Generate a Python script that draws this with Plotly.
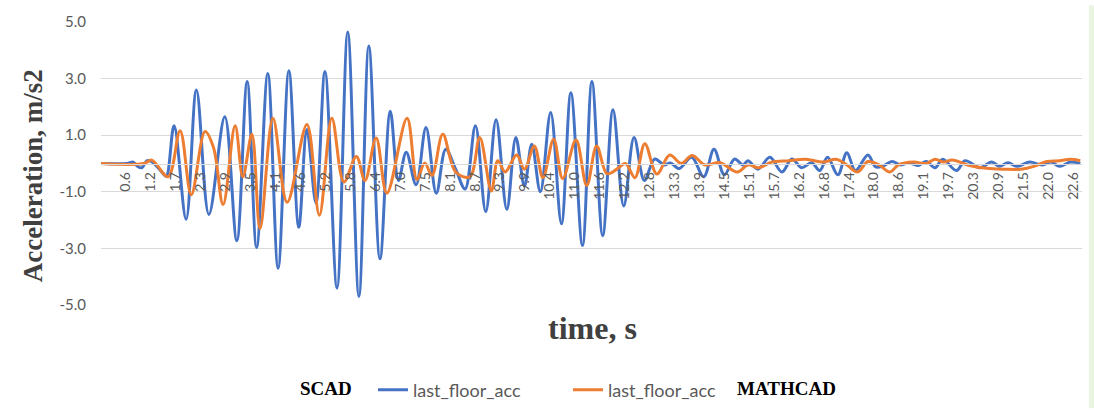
import plotly.graph_objects as go

# SCAD response: last floor acceleration (s, m/s2) at turning points of the record
scad_t = [0, 0.6, 0.75, 0.85, 0.95, 1.07, 1.2, 1.44, 1.52, 1.70, 1.98, 2.22, 2.51, 2.88,
          3.16, 3.40, 3.62, 3.88, 4.12, 4.37, 4.60, 4.79, 5.00, 5.21, 5.49, 5.74, 6.00,
          6.23, 6.49, 6.73, 6.92, 7.10, 7.33, 7.56, 7.80, 8.02, 8.25, 8.47, 8.71, 8.95,
          9.19, 9.44, 9.65, 9.85, 10.02, 10.22, 10.46, 10.71, 10.93, 11.20, 11.42, 11.67,
          11.91, 12.16, 12.40, 12.64, 12.88, 13.10, 13.25, 13.45, 13.74, 14.02, 14.26,
          14.50, 14.74, 14.93, 15.05, 15.28, 15.56, 15.84, 16.07, 16.30, 16.53, 16.72,
          16.90, 17.14, 17.35, 17.55, 17.84, 18.02, 18.20, 18.40, 18.60, 18.80, 19.00,
          19.20, 19.40, 19.58, 19.90, 20.10, 20.44, 20.72, 20.90, 21.10, 21.30, 21.60,
          21.90, 22.10, 22.30, 22.55, 22.78]
scad_acc = [0, 0, 0.05, -0.1, -0.15, 0.1, 0.05, -0.35, -0.45, 1.33, -1.97, 2.6, -1.8, 1.65,
            -2.73, 2.9, -2.97, 3.18, -3.7, 3.28, -2.25, 1.2, -1.4, 3.25, -4.4, 4.65, -4.7,
            4.15, -3.37, 1.85, -0.6, 0.4, -0.75, 1.27, -1.05, 0.5, -0.2, -0.9, 1.33, -1.7,
            1.55, -1.62, 0.92, -0.8, 0.68, -1.0, 1.8, -2.13, 2.5, -2.9, 2.9, -2.55,
            1.9, -1.5, 0.92, -0.6, 0.16, -0.05, 0.02, -0.18, 0.22, -0.47, 0.5,
            -0.4, 0.16, -0.05, 0.1, -0.2, 0.22, -0.3, 0.16, -0.15, 0.03, -0.25,
            0.22, -0.4, 0.38, -0.25, 0.3, -0.12, -0.08, 0.07, -0.05, 0.02, -0.07,
            0.07, -0.15, 0.15, -0.25, 0.1, -0.15, 0.05, -0.1, 0.03, -0.1, 0.05,
            -0.05, 0.05, -0.1, 0.05, 0.0]

# MATHCAD response: last floor acceleration (s, m/s2)
mathcad_t = [0, 1.0, 1.18, 1.56, 1.84, 2.10, 2.42, 2.62, 2.84, 3.12, 3.30, 3.51, 3.70,
             4.00, 4.33, 4.79, 5.08, 5.37, 5.65, 5.94, 6.14, 6.40, 6.65, 7.12, 7.35,
             7.53, 7.70, 7.95, 8.25, 8.58, 8.81, 9.08, 9.23, 9.40, 9.67, 9.85, 10.08,
             10.28, 10.53, 10.74, 11.05, 11.30, 11.53, 11.77, 12.00, 12.20, 12.42, 12.65,
             12.93, 13.23, 13.50, 13.75, 14.05, 14.40, 14.80, 15.05, 15.30, 15.60, 16.00,
             16.40, 16.80, 17.10, 17.35, 17.60, 17.84, 18.10, 18.35, 18.55, 18.90, 19.20,
             19.40, 19.60, 19.80, 20.20, 20.60, 21.00, 21.40, 21.70, 22.00, 22.30, 22.55,
             22.78]
mathcad_acc = [0, 0, 0.12, -0.47, 1.16, -1.1, 1.13, 0.55, -1.45, 1.33, -0.47, 1.03, -2.3,
               1.6, -1.37, 1.38, -1.83, 1.6, -0.65, 0.25, -0.6, 0.9, -1.05, 1.6, -0.57,
               0.02, -0.42, 1.03, -0.3, -0.47, 0.92, -0.97, 0.1, -0.3, 0.3, -0.2, 0.62,
               -0.5, 0.86, -0.53, 0.83, -0.78, 0.62, -0.36, -0.2, 0.0, -0.5, 0.7,
               -0.37, 0.3, 0.0, 0.28, -0.05, 0.03, -0.3, -0.05, -0.15, 0.05, 0.1,
               0.15, 0.05, 0.15, -0.05, -0.3, 0.07, -0.05, -0.3, -0.05, 0.05, 0.0,
               0.15, 0.05, 0.12, -0.07, -0.17, -0.2, -0.2, -0.1, 0.07, 0.1, 0.15,
               0.1]

# category labels of the time axis (one every 0.58 s)
time_labels = ["0.6", "1.2", "1.7", "2.3", "2.9", "3.5", "4.1", "4.6", "5.2", "5.8",
               "6.4", "7.0", "7.5", "8.1", "8.7", "9.3", "9.9", "10.4", "11.0", "11.6",
               "12.2", "12.8", "13.3", "13.9", "14.5", "15.1", "15.7", "16.2", "16.8",
               "17.4", "18.0", "18.6", "19.1", "19.7", "20.3", "20.9", "21.5", "22.0",
               "22.6"]
label_step = 0.58
acc_ticks = [-5, -3, -1, 1, 3, 5]
acc_labels = ["-5.0", "-3.0", "-1.0", "1.0", "3.0", "5.0"]

W, H = 1094, 410
ML, MR, MT, MB = 101, 12, 17, 105
PW, PH = W - ML - MR, H - MT - MB


def px(x):
    return (x - ML) / PW


def py(y):
    return (H - MB - y) / PH


BLUE = "#4472C4"
ORANGE = "#ED7D31"
GRAY = "#595959"

fig = go.Figure()
fig.add_trace(go.Scatter(x=scad_t, y=scad_acc, mode="lines", name="last_floor_acc",
                         line=dict(color=BLUE, width=3, shape="spline", smoothing=1.0)))
fig.add_trace(go.Scatter(x=mathcad_t, y=mathcad_acc, mode="lines", name="last_floor_acc",
                         line=dict(color=ORANGE, width=3, shape="spline", smoothing=1.0)))

fig.update_layout(
    width=W, height=H,
    margin=dict(l=ML, r=MR, t=MT, b=MB),
    paper_bgcolor="white", plot_bgcolor="white",
    font=dict(family="Lato", color=GRAY),
    showlegend=True,
    legend=dict(orientation="h", xref="container", yref="container",
                x=373 / W, y=1 - 390 / H, xanchor="left", yanchor="middle",
                font=dict(family="Lato", size=18, color=GRAY),
                entrywidth=150, entrywidthmode="pixels",
                bgcolor="rgba(0,0,0,0)", itemclick=False),
    xaxis=dict(range=[0, 22.82], anchor="free", position=0.5,
               tickvals=[label_step * (i + 1) for i in range(len(time_labels))],
               ticktext=time_labels, tickangle=-90, ticks="",
               tickfont=dict(family="Lato", size=14, color=GRAY),
               ticklabelstandoff=2,
               showgrid=False, zeroline=False,
               showline=True, linecolor="#D9D9D9", linewidth=1),
    yaxis=dict(range=[-5, 5], tickvals=acc_ticks, ticktext=acc_labels,
               ticks="", tickfont=dict(family="Lato", size=15, color=GRAY),
               ticklabelstandoff=14,
               showgrid=True, gridcolor="#D9D9D9", gridwidth=1,
               zeroline=False, showline=False),
    shapes=[dict(type="rect", xref="paper", yref="paper",
                 x0=px(1089), x1=px(1094), y0=py(410), y1=py(0),
                 fillcolor="#E9F5E1", line=dict(width=0), layer="below")],
    annotations=[
        dict(text="<b>Acceleration, m/s2</b>", xref="paper", yref="paper",
             x=px(33), y=py(174), textangle=-90, showarrow=False,
             xanchor="center", yanchor="middle",
             font=dict(family="Liberation Serif", size=27, color="#404040")),
        dict(text="<b>time, s</b>", xref="paper", yref="paper",
             x=px(592), y=py(328), showarrow=False,
             xanchor="center", yanchor="middle",
             font=dict(family="Liberation Serif", size=32, color="#404040")),
        dict(text="<b>SCAD</b>", xref="paper", yref="paper",
             x=px(326), y=py(390), showarrow=False,
             xanchor="center", yanchor="middle",
             font=dict(family="Liberation Serif", size=19, color="black")),
        dict(text="<b>MATHCAD</b>", xref="paper", yref="paper",
             x=px(786), y=py(390), showarrow=False,
             xanchor="center", yanchor="middle",
             font=dict(family="Liberation Serif", size=19, color="black")),
    ],
)

fig.write_html("out.html")
